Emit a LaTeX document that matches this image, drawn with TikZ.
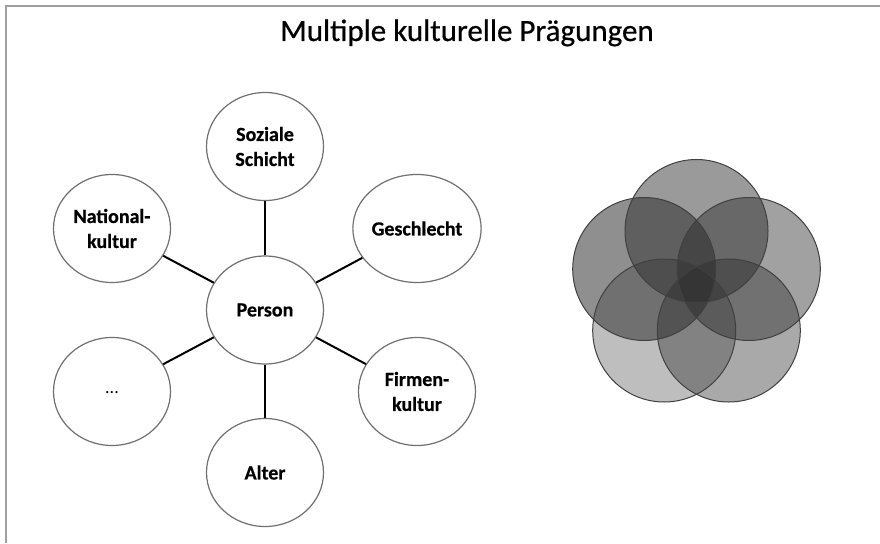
\documentclass[tikz,border=0pt]{standalone}
\usepackage{fontspec}
\setmainfont{Carlito}
\newfontfamily\titlefont{Carlito}[FakeBold=0.6]
\newfontfamily\bubblefont{Carlito}[BoldFeatures={FakeBold=0.6}]
\usetikzlibrary{shapes.geometric}
\definecolor{framegray}{HTML}{A0A0A0}
\definecolor{bubblegray}{HTML}{707070}
\definecolor{ringfill}{HTML}{282828}
\begin{document}
\begin{tikzpicture}[x=1pt,y=-1pt,
  bubble/.style={ellipse, draw=bubblegray, line width=1.2pt, fill=white,
    minimum width=117pt, minimum height=108pt, inner sep=0pt, align=center,
    font=\bubblefont\fontsize{20}{25}\selectfont\bfseries},
  link/.style={line width=2pt, draw=black},
  ring/.style={draw=black!75, line width=1pt}
]
\useasboundingbox (0,0) rectangle (880,543);
\draw[framegray, line width=2pt] (5.5,543) -- (5.5,6.5) -- (880,6.5);

\node[anchor=base, font=\titlefont\fontsize{31}{36}\selectfont] (title) at (467,41) {Multiple kulturelle Prägungen};

% left diagram
\node[bubble] (person) at (265,310) {Person};
\node[bubble] (soz) at (265,146.5) {Soziale\\Schicht};
\node[bubble] (nat) at (112,228.5) {National-\\kultur};
\node[bubble] (ges) at (417,228.5) {Geschlecht};
\node[bubble, font=\fontsize{18}{22}\selectfont] (etc) at (112,391.5) {\raisebox{-4pt}{...}};
\node[bubble] (firm) at (417,391.5) {Firmen-\\kultur};
\node[bubble] (alter) at (265,472.5) {Alter};

\foreach \n in {soz,nat,ges,etc,firm,alter}
  \draw[link] (person) -- (\n);

% right diagram: overlapping circles
\coordinate (c1) at (696.5,231);
\coordinate (c2) at (644.2,269);
\coordinate (c3) at (748.8,269);
\coordinate (c4) at (664.2,330.5);
\coordinate (c5) at (728.8,330.5);
\fill[ringfill, fill opacity=0.47] (c1) circle[radius=71.5pt];
\fill[ringfill, fill opacity=0.52] (c2) circle[radius=71.5pt];
\fill[ringfill, fill opacity=0.44] (c3) circle[radius=71.5pt];
\fill[ringfill, fill opacity=0.30] (c4) circle[radius=71.5pt];
\fill[ringfill, fill opacity=0.40] (c5) circle[radius=71.5pt];
\foreach \c in {c1,c2,c3,c4,c5}
  \draw[ring] (\c) circle[radius=71.5pt];
\end{tikzpicture}
\end{document}
